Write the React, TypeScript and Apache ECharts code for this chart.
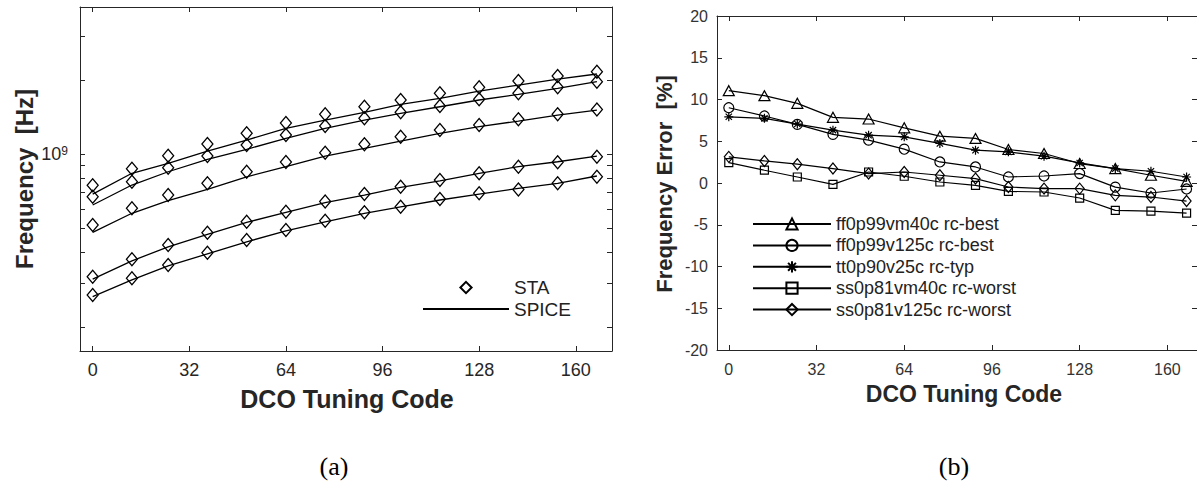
import React, { useEffect, useRef } from 'react';
import * as echarts from 'echarts';

// DCO tuning codes (x values, both panels)
const CODES = [0, 13, 25, 38, 51, 64, 77, 90, 102, 115, 128, 141, 154, 167];
const X_TICKS = [0, 32, 64, 96, 128, 160];

// (a) Frequency in GHz, STA (diamonds) and SPICE (lines) for five corners
const STA_FF_M40 = [0.749, 0.874, 0.987, 1.101, 1.216, 1.339, 1.452, 1.559, 1.66, 1.767, 1.868, 1.982, 2.076, 2.161];
const SPICE_FF_M40 = [0.69, 0.838, 0.92, 1.031, 1.143, 1.275, 1.377, 1.48, 1.595, 1.686, 1.805, 1.909, 2.019, 2.116];
const STA_FF_125 = [0.673, 0.774, 0.882, 0.984, 1.091, 1.197, 1.302, 1.399, 1.48, 1.569, 1.671, 1.767, 1.868, 1.969];
const SPICE_FF_125 = [0.623, 0.751, 0.85, 0.954, 1.048, 1.161, 1.275, 1.377, 1.466, 1.559, 1.66, 1.75, 1.851, 1.969];
const STA_TT_25 = [0.517, 0.604, 0.684, 0.763, 0.85, 0.931, 1.015, 1.098, 1.178, 1.254, 1.314, 1.386, 1.452, 1.521];
const SPICE_TT_25 = [0.483, 0.577, 0.649, 0.721, 0.811, 0.891, 0.984, 1.057, 1.132, 1.216, 1.294, 1.364, 1.443, 1.512];
const STA_SS_M40 = [0.319, 0.376, 0.429, 0.481, 0.533, 0.585, 0.644, 0.69, 0.739, 0.787, 0.838, 0.891, 0.928, 0.978];
const SPICE_SS_M40 = [0.312, 0.37, 0.422, 0.474, 0.53, 0.582, 0.637, 0.684, 0.735, 0.78, 0.838, 0.891, 0.933, 0.984];
const STA_SS_125 = [0.269, 0.315, 0.356, 0.399, 0.45, 0.494, 0.538, 0.582, 0.613, 0.659, 0.695, 0.721, 0.763, 0.811];
const SPICE_SS_125 = [0.265, 0.31, 0.353, 0.395, 0.442, 0.49, 0.533, 0.577, 0.613, 0.653, 0.69, 0.728, 0.763, 0.817];

// log tick positions (Hz) for panel (a)
const FREQ_TICKS = [2e8, 3e8, 4e8, 5e8, 6e8, 7e8, 8e8, 9e8, 1e9, 2e9, 3e9];
const FREQ_LABELS = [1e9];
const FREQ_MIN = 1.596e8;
const FREQ_MAX = 3.954e9;

// (b) Frequency error [%]
const CORNERS = [
  'ff0p99vm40c rc-best',
  'ff0p99v125c rc-best',
  'tt0p90v25c rc-typ',
  'ss0p81vm40c rc-worst',
  'ss0p81v125c rc-worst',
];
const ERR_FF_M40 = [11.06, 10.46, 9.54, 7.86, 7.66, 6.61, 5.61, 5.34, 4.01, 3.53, 2.33, 1.73, 0.93, 0.2];
const ERR_FF_125 = [9.01, 8.02, 7.02, 5.82, 5.13, 4.05, 2.52, 1.92, 0.72, 0.84, 1.13, -0.5, -1.2, -0.72];
const ERR_TT_25 = [7.93, 7.74, 7.06, 6.33, 5.73, 5.53, 4.74, 3.93, 3.73, 3.21, 2.4, 1.73, 1.41, 0.72];
const ERR_SS_M40 = [2.45, 1.53, 0.72, -0.16, 1.32, 0.81, 0.12, -0.28, -1.0, -1.08, -1.8, -3.28, -3.36, -3.6];
const ERR_SS_125 = [3.13, 2.64, 2.25, 1.73, 1.13, 1.32, 0.93, 0.53, -0.48, -0.67, -0.67, -1.48, -1.68, -2.16];

const STAR = 'path://M5,0L5,10M0,5L10,5M1.5,1.5L8.5,8.5M1.5,8.5L8.5,1.5';

const FONT = 'Liberation Sans, Arial, sans-serif';
const AX = '#262626';

const lg = (ghz: number) => Math.log10(ghz * 1e9);

function App() {
  const ref = useRef<HTMLDivElement>(null);
  useEffect(() => {
    if (!ref.current) return;
    const chart = echarts.init(ref.current, undefined, { renderer: 'svg' });

    const staSets = [STA_FF_M40, STA_FF_125, STA_TT_25, STA_SS_M40, STA_SS_125];
    const spiceSets = [SPICE_FF_M40, SPICE_FF_125, SPICE_TT_25, SPICE_SS_M40, SPICE_SS_125];
    const errSets = [ERR_FF_M40, ERR_FF_125, ERR_TT_25, ERR_SS_M40, ERR_SS_125];
    const errSymbols: any[] = ['triangle', 'circle', STAR, 'rect', 'diamond'];
    const errSizes: any[] = [[11, 10], 10, 9, 8, [9, 11]];

    const series: any[] = [];
    spiceSets.forEach((s) => {
      series.push({
        name: 'SPICE',
        type: 'line',
        xAxisIndex: 0,
        yAxisIndex: 0,
        data: CODES.map((c, i) => [c, lg(s[i])]),
        symbol: 'none',
        lineStyle: { color: '#000', width: 1.3 },
        itemStyle: { color: 'transparent', borderWidth: 0 },
        z: 2,
      });
    });
    staSets.forEach((s) => {
      series.push({
        name: 'STA',
        type: 'line',
        xAxisIndex: 0,
        yAxisIndex: 0,
        data: CODES.map((c, i) => [c, lg(s[i])]),
        symbol: 'diamond',
        symbolSize: [11, 13],
        showSymbol: true,
        lineStyle: { width: 0, opacity: 0 },
        itemStyle: { color: 'transparent', borderColor: '#000', borderWidth: 1.3 },
        z: 3,
      });
    });
    errSets.forEach((s, k) => {
      series.push({
        name: CORNERS[k],
        type: 'line',
        xAxisIndex: 2,
        yAxisIndex: 2,
        data: CODES.map((c, i) => [c, s[i]]),
        symbol: errSymbols[k],
        symbolSize: errSizes[k],
        showSymbol: true,
        lineStyle: { color: '#000', width: 1.2 },
        itemStyle: { color: 'transparent', borderColor: '#000', borderWidth: 1.2 },
        z: 3,
      });
    });

    const tickStyle = { show: true, inside: true, length: 5, lineStyle: { color: AX, width: 1 } };
    const lineStyle = { show: true, onZero: false, lineStyle: { color: AX, width: 1 } };

    const option: any = {
      animation: false,
      backgroundColor: '#fff',
      grid: [
        { left: 80, top: 7, width: 532, height: 344 },
        { left: 717, top: 16, width: 482, height: 334 },
      ],
      xAxis: [
        {
          gridIndex: 0, type: 'value', min: -4.2, max: 172, position: 'bottom',
          axisLine: lineStyle, splitLine: { show: false },
          axisTick: { ...tickStyle, customValues: X_TICKS },
          axisLabel: { customValues: X_TICKS, fontSize: 18, color: AX, fontFamily: FONT, margin: 10 },
        },
        {
          gridIndex: 0, type: 'value', min: -4.2, max: 172, position: 'top',
          axisLine: lineStyle, splitLine: { show: false },
          axisTick: { ...tickStyle, customValues: X_TICKS },
          axisLabel: { show: false },
        },
        {
          gridIndex: 1, type: 'value', min: -4.3, max: 170.8, position: 'bottom',
          axisLine: lineStyle, splitLine: { show: false },
          axisTick: { ...tickStyle, customValues: X_TICKS },
          axisLabel: { customValues: X_TICKS, fontSize: 16, color: '#333', fontFamily: FONT, margin: 11 },
        },
        {
          gridIndex: 1, type: 'value', min: -4.3, max: 170.8, position: 'top',
          axisLine: lineStyle, splitLine: { show: false },
          axisTick: { ...tickStyle, customValues: X_TICKS },
          axisLabel: { show: false },
        },
      ],
      yAxis: [
        {
          gridIndex: 0, type: 'value', min: Math.log10(FREQ_MIN), max: Math.log10(FREQ_MAX), position: 'left',
          axisLine: lineStyle, splitLine: { show: false },
          axisTick: { ...tickStyle, customValues: FREQ_TICKS.map((v) => Math.log10(v)) },
          axisLabel: {
            customValues: FREQ_LABELS.map((v) => Math.log10(v)),
            formatter: (v: number) => '{a|10}{b|' + Math.round(v) + '}',
            margin: 12,
            color: AX,
            fontFamily: FONT,
            rich: {
              a: { fontSize: 18, lineHeight: 18, verticalAlign: 'bottom', color: AX, fontFamily: FONT },
              b: { fontSize: 12, lineHeight: 12, verticalAlign: 'top', padding: [0, 0, 10, 0], color: AX, fontFamily: FONT },
            },
          },
        },
        {
          gridIndex: 0, type: 'value', min: Math.log10(FREQ_MIN), max: Math.log10(FREQ_MAX), position: 'right',
          axisLine: lineStyle, splitLine: { show: false },
          axisTick: { ...tickStyle, customValues: FREQ_TICKS.map((v) => Math.log10(v)) },
          axisLabel: { show: false },
        },
        {
          gridIndex: 1, type: 'value', min: -20, max: 20, interval: 5, position: 'left',
          axisLine: lineStyle, splitLine: { show: false },
          axisTick: tickStyle,
          axisLabel: { fontSize: 16, color: '#333', fontFamily: FONT, margin: 9 },
        },
        {
          gridIndex: 1, type: 'value', min: -20, max: 20, interval: 5, position: 'right',
          axisLine: lineStyle, splitLine: { show: false },
          axisTick: tickStyle,
          axisLabel: { show: false },
        },
      ],
      legend: [
        {
          data: ['STA', 'SPICE'],
          orient: 'vertical',
          left: 422,
          top: 278,
          padding: 0,
          itemWidth: 86,
          itemHeight: 14,
          itemGap: 2.6,
          selectedMode: false,
          textStyle: { fontSize: 19, color: '#222', fontFamily: FONT },
        },
        {
          data: CORNERS,
          orient: 'vertical',
          left: 752,
          top: 215,
          padding: 0,
          itemWidth: 78,
          itemHeight: 14,
          itemGap: 3.4,
          selectedMode: false,
          textStyle: { fontSize: 18, color: '#222', fontFamily: FONT },
        },
      ],
      graphic: [
        {
          type: 'text', x: 347, y: 399,
          style: { text: 'DCO Tuning Code', fill: AX, font: 'bold 25px ' + FONT, textAlign: 'center', textVerticalAlign: 'middle' },
        },
        {
          type: 'text', x: 24, y: 179, rotation: Math.PI / 2,
          style: { text: 'Frequency  [Hz]', fill: AX, font: 'bold 24px ' + FONT, textAlign: 'center', textVerticalAlign: 'middle' },
        },
        {
          type: 'text', x: 964, y: 394,
          style: { text: 'DCO Tuning Code', fill: AX, font: 'bold 23px ' + FONT, textAlign: 'center', textVerticalAlign: 'middle' },
        },
        {
          type: 'text', x: 664, y: 184, rotation: Math.PI / 2,
          style: { text: 'Frequency Error  [%]', fill: AX, font: 'bold 22px ' + FONT, textAlign: 'center', textVerticalAlign: 'middle' },
        },
        {
          type: 'text', x: 334, y: 466,
          style: { text: '(a)', fill: '#000', font: '26px Liberation Serif, serif', textAlign: 'center', textVerticalAlign: 'middle' },
        },
        {
          type: 'text', x: 954, y: 466,
          style: { text: '(b)', fill: '#000', font: '26px Liberation Serif, serif', textAlign: 'center', textVerticalAlign: 'middle' },
        },
      ],
      series,
    };
    chart.setOption(option);
    return () => chart.dispose();
  }, []);
  return (
    <div
      ref={ref}
      style={{ position: 'fixed', left: 0, top: 0, width: 1197, height: 495, background: '#fff' }}
    />
  );
}

export default App;
